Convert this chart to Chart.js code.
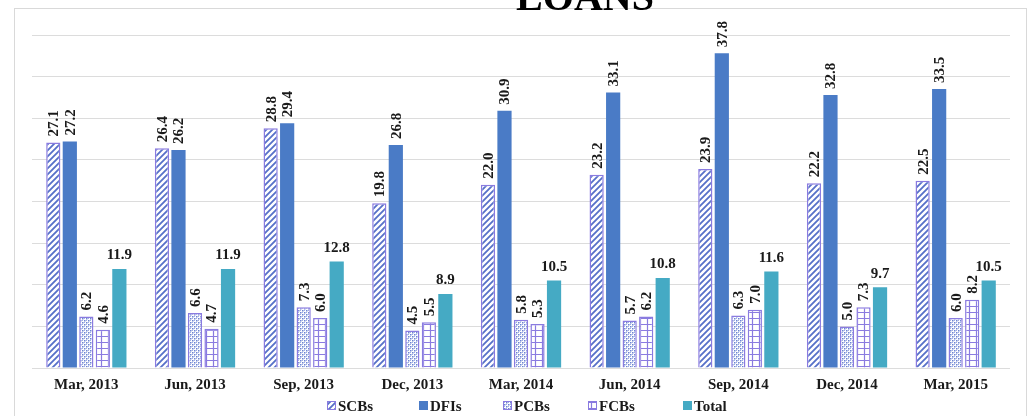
<!DOCTYPE html>
<html>
<head>
<meta charset="utf-8">
<script src="https://cdn.jsdelivr.net/npm/chart.js@4/dist/chart.umd.min.js"></script>
<style>
  html, body { margin: 0; padding: 0; background: #fff; }
  #wrap { position: relative; width: 1033px; height: 416px; overflow: hidden; }
  #frame { position: absolute; left: 14px; top: 8px; width: 1013px; height: 420px; border: 1px solid #d9d9d9; box-sizing: border-box; }
  #title { position: absolute; left: 485px; width: 200px; top: -23px; text-align: center;
           font: bold 40px 'Liberation Serif', serif; line-height: 40px; color: #000; }
  canvas { position: absolute; left: 0; top: 0; }
</style>
</head>
<body>
<div id="wrap">
  <div id="frame"></div>
  <canvas id="chart" width="1033" height="416"></canvas>
  <div id="title">LOANS</div>
</div>
<script>
// ── DATA ──
const periods = ['Mar, 2013', 'Jun, 2013', 'Sep, 2013', 'Dec, 2013', 'Mar, 2014', 'Jun, 2014', 'Sep, 2014', 'Dec, 2014', 'Mar, 2015']
const scbs  = [27.1, 26.4, 28.8, 19.8, 22.0, 23.2, 23.9, 22.2, 22.5]
const dfis  = [27.2, 26.2, 29.4, 26.8, 30.9, 33.1, 37.8, 32.8, 33.5]
const pcbs  = [6.2, 6.6, 7.3, 4.5, 5.8, 5.7, 6.3, 5.0, 6.0]
const fcbs  = [4.6, 4.7, 6.0, 5.5, 5.3, 6.2, 7.0, 7.3, 8.2]
const total = [11.9, 11.9, 12.8, 8.9, 10.5, 10.8, 11.6, 9.7, 10.5]
const yMax = 40
const yStep = 5

// ── PATTERNS ──
const EDGE = '#8a7be0'

function tile(w, h, draw) {
  const c = document.createElement('canvas')
  c.width = w; c.height = h
  const g = c.getContext('2d')
  g.fillStyle = '#fff'
  g.fillRect(0, 0, w, h)
  draw(g)
  return document.getElementById('chart').getContext('2d').createPattern(c, 'repeat')
}

const stripes = tile(6, 6, g => {
  g.strokeStyle = '#5670c8'
  g.lineWidth = 1.8
  g.beginPath()
  g.moveTo(-1, 7); g.lineTo(7, -1)
  g.moveTo(-4, 4); g.lineTo(4, -4)
  g.moveTo(2, 10); g.lineTo(10, 2)
  g.stroke()
})

const dots = tile(4, 4, g => {
  g.fillStyle = '#6d84d2'
  g.fillRect(0, 0, 1.5, 1.5)
  g.fillRect(2, 2, 1.5, 1.5)
  g.fillStyle = '#9fb0e4'
  g.fillRect(2, 0, 1, 1)
  g.fillRect(0, 2, 1, 1)
})

const grid = tile(7, 6, g => {
  g.strokeStyle = '#8a7be0'
  g.lineWidth = 1.2
  g.beginPath()
  g.moveTo(3.5, 0); g.lineTo(3.5, 6)
  g.moveTo(0, 0.5); g.lineTo(7, 0.5)
  g.stroke()
})

// ── PLUGINS ──
const valueLabels = {
  id: 'valueLabels',
  afterDatasetsDraw(chart) {
    const ctx = chart.ctx
    ctx.save()
    ctx.fillStyle = '#1a1a1a'
    ctx.font = "bold 15px 'Liberation Serif', serif"
    chart.data.datasets.forEach((ds, di) => {
      const meta = chart.getDatasetMeta(di)
      meta.data.forEach((bar, i) => {
        const txt = ds.data[i].toFixed(1)
        if (ds.label === 'Total') {
          ctx.textAlign = 'center'
          ctx.textBaseline = 'bottom'
          ctx.fillText(txt, bar.x, bar.y - 6)
        } else {
          ctx.save()
          ctx.translate(bar.x + 1, bar.y - 6)
          ctx.rotate(-Math.PI / 2)
          ctx.textAlign = 'left'
          ctx.textBaseline = 'middle'
          ctx.fillText(txt, 0, 0)
          ctx.restore()
        }
      })
    })
    ctx.restore()
  }
}

const bottomLegend = {
  id: 'bottomLegend',
  afterDraw(chart) {
    const ctx = chart.ctx
    const y = 406
    const starts = [327, 419, 503, 588, 683]
    ctx.save()
    ctx.font = "bold 15px 'Liberation Serif', serif"
    ctx.textBaseline = 'middle'
    ctx.textAlign = 'left'
    chart.data.datasets.forEach((ds, i) => {
      const x = starts[i]
      ctx.fillStyle = ds.backgroundColor
      ctx.fillRect(x, y - 5, 9, 9)
      if (ds.borderWidth) {
        ctx.strokeStyle = ds.borderColor
        ctx.lineWidth = 1
        ctx.strokeRect(x + 0.5, y - 4.5, 8, 8)
      }
      ctx.fillStyle = '#1a1a1a'
      ctx.fillText(ds.label, x + 11, y + 1)
    })
    ctx.restore()
  }
}

// ── CHART ──
const barOpts = { categoryPercentage: 0.76, barPercentage: 0.86 }

new Chart(document.getElementById('chart'), {
  type: 'bar',
  data: {
    labels: periods,
    datasets: [
      { label: 'SCBs', data: scbs, backgroundColor: stripes, borderColor: EDGE, borderWidth: 1.5, ...barOpts },
      { label: 'DFIs', data: dfis, backgroundColor: '#4a7bc6', borderWidth: 0, ...barOpts },
      { label: 'PCBs', data: pcbs, backgroundColor: dots, borderColor: EDGE, borderWidth: 1.5, ...barOpts },
      { label: 'FCBs', data: fcbs, backgroundColor: grid, borderColor: EDGE, borderWidth: 1.5, ...barOpts },
      { label: 'Total', data: total, backgroundColor: '#45aac4', borderWidth: 0, ...barOpts }
    ]
  },
  options: {
    responsive: false,
    animation: false,
    layout: { padding: { left: 32, right: 23, top: 35, bottom: 22 } },
    plugins: { legend: { display: false }, tooltip: { enabled: false } },
    scales: {
      x: {
        grid: { display: false },
        border: { display: false },
        ticks: { color: '#1a1a1a', padding: 0, font: { family: "'Liberation Serif', serif", size: 15, weight: 'bold' } }
      },
      y: {
        min: 0,
        max: yMax,
        afterFit: s => { s.width = 0 },
        ticks: { display: false, stepSize: yStep },
        border: { display: false },
        grid: { color: '#dcdcdc', lineWidth: 1, drawTicks: false }
      }
    }
  },
  plugins: [valueLabels, bottomLegend]
})
</script>
</body>
</html>
